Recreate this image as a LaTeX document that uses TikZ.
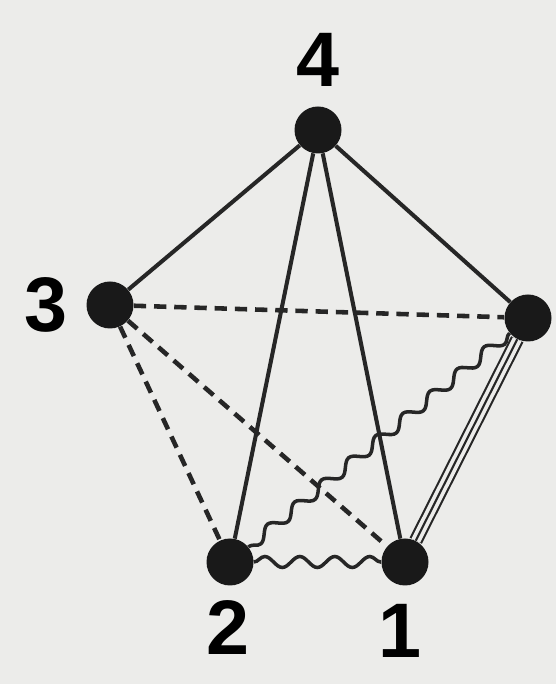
\documentclass[tikz,border=0pt]{standalone}
\usepackage{fontspec}
\setmainfont{Liberation Sans}
\usetikzlibrary{decorations.pathmorphing}
\definecolor{paper}{RGB}{236,236,234}

\begin{document}
\begin{tikzpicture}[
    every node/.style={font=\fontsize{44}{44}\selectfont\bfseries},
    vertex/.style={circle, fill=black!90, minimum size=9.4mm, inner sep=0pt},
    edge/.style={line width=2.3pt, black!85},
    dashededge/.style={edge, line width=2.6pt, dash pattern=on 7pt off 4.5pt},
    wavy/.style={line width=2pt, black!85, decorate, decoration={snake, amplitude=1.1mm, segment length=7mm}},
    triple/.style={line width=1.2pt, black!85, double=paper, double distance=5.4pt},
    label/.style={inner sep=0pt}
]
\useasboundingbox[fill=paper] (0,0) rectangle (11.12,13.68);

% vrcholy
\node[vertex] (v4) at (6.36,11.08) {};
\node[vertex] (v3) at (2.2,7.58) {};
\node[vertex] (v5) at (10.56,7.32) {};
\node[vertex] (v2) at (4.6,2.44) {};
\node[vertex] (v1) at (8.1,2.44) {};

% popisky
\node[label] (l4) at (6.36,12.48) {4};
\node[label] (l3) at (0.92,7.58) {3};
\node[label] (l2) at (4.56,1.12) {2};
\node[label] (l1) at (8.0,1.06) {1};

% plné hrany
\draw[edge] (v4) -- (v3);
\draw[edge] (v4) -- (v5);
\draw[edge] (v4) -- (v2);
\draw[edge] (v4) -- (v1);

% čárkované hrany
\draw[dashededge] (v3) -- (v5);
\draw[dashededge] (v3) -- (v2);
\draw[dashededge] (v3) -- (v1);

% vlnité hrany
\draw[wavy] (v5) -- (v2);
\draw[wavy] (v2) -- (v1);

% trojitá hrana
\draw[triple] (v5) -- (v1);
\draw[line width=1.2pt, black!85] (v5) -- (v1);

\end{tikzpicture}
\end{document}
